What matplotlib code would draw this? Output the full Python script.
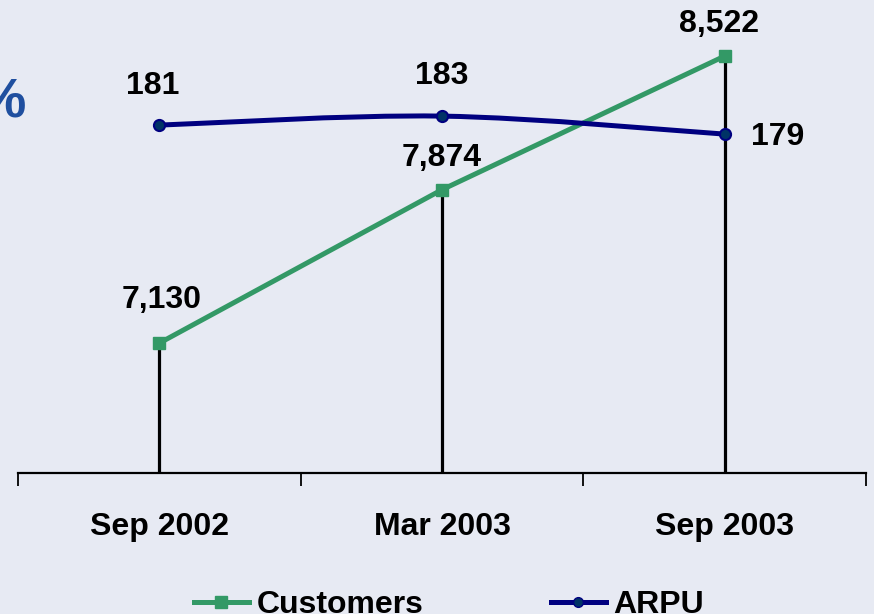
import matplotlib
matplotlib.use("Agg")
import matplotlib.pyplot as plt
from matplotlib.path import Path
from matplotlib.patches import PathPatch
from matplotlib.lines import Line2D

# data
periods = ["Sep 2002", "Mar 2003", "Sep 2003"]
customers = [7130, 7874, 8522]
arpu = [181, 183, 179]
customer_labels = ["7,130", "7,874", "8,522"]
arpu_labels = ["181", "183", "179"]

green = "#339966"
navy = "#000080"
bg = "#e7eaf3"

plt.rcParams["font.family"] = ["Liberation Sans", "DejaVu Sans"]
plt.rcParams["font.weight"] = "bold"

fig = plt.figure(figsize=(8.74, 6.14), dpi=100)
fig.patch.set_facecolor(bg)

ax = fig.add_axes([18 / 874, 1 - 473 / 614, 848 / 874, 473 / 614])
ax.set_facecolor("none")
ax2 = ax.twinx()

x = list(range(len(periods)))

# drop lines from customers points down to the axis
ax.vlines(x, 6500, customers, color="black", lw=2.3, zorder=2)
ax.plot(x, customers, color=green, lw=3.6, marker="s", ms=9, zorder=3)

# smoothed ARPU line (Catmull-Rom style bezier, like Excel's smoothed line)
verts = [(x[0], arpu[0])]
codes = [Path.MOVETO]
n = len(x)
for i in range(n - 1):
    p0 = (x[max(i - 1, 0)], arpu[max(i - 1, 0)])
    p1 = (x[i], arpu[i])
    p2 = (x[i + 1], arpu[i + 1])
    p3 = (x[min(i + 2, n - 1)], arpu[min(i + 2, n - 1)])
    c1 = (p1[0] + (p2[0] - p0[0]) / 6, p1[1] + (p2[1] - p0[1]) / 6)
    c2 = (p2[0] - (p3[0] - p1[0]) / 6, p2[1] - (p3[1] - p1[1]) / 6)
    verts += [c1, c2, p2]
    codes += [Path.CURVE4] * 3
ax2.add_patch(PathPatch(Path(verts, codes), fill=False, edgecolor=navy,
                        lw=3.6, capstyle="round", zorder=3))
ax2.plot(x, arpu, ls="none", marker="o", ms=8, mfc="#003366", mec=navy,
         mew=1.5, zorder=4)

ax.set_xlim(-0.5, 2.5)
ax.set_ylim(6500, 8794)
ax2.set_ylim(103.7, 208.8)

for a in (ax, ax2):
    for s in ("top", "right", "left"):
        a.spines[s].set_visible(False)
    a.set_yticks([])
ax2.spines["bottom"].set_visible(False)
ax.spines["bottom"].set_linewidth(1.6)

ax.set_xticks(x)
ax.set_xticklabels(periods, fontsize=23, fontweight="bold")
ax.tick_params(axis="x", which="major", length=0, pad=28)
ax.set_xticks([-0.5, 0.5, 1.5, 2.5], minor=True)
ax.tick_params(axis="x", which="minor", length=9, width=1.3, direction="out")

# data labels
cust_off = [(2, 31), (0, 23), (-4, 23)]
for xi, v, lab, off in zip(x, customers, customer_labels, cust_off):
    ax.annotate(lab, (xi, v), xytext=off, textcoords="offset points",
                ha="center", va="center", fontsize=23, fontweight="bold")
arpu_off = [(-5, 28), (0, 29), (38, -2)]
for xi, v, lab, off in zip(x, arpu, arpu_labels, arpu_off):
    ax2.annotate(lab, (xi, v), xytext=off, textcoords="offset points",
                 ha="center", va="center", fontsize=23, fontweight="bold")

# partially visible "%" at the left edge
fig.text(26 / 874, 1 - 104 / 614, "%", color="#1f4f9f", fontsize=40,
         fontweight="bold", ha="right", va="center")

handles = [
    Line2D([], [], color=green, lw=3.6, marker="s", ms=9),
    Line2D([], [], color=navy, lw=3.6, marker="o", ms=7, mfc="#003366", mec=navy),
]
fig.legend(handles, ["Customers", "ARPU"], loc="center",
           bbox_to_anchor=(0.514, 1 - 605 / 614), ncol=2, frameon=False,
           prop={"weight": "bold", "size": 23},
           handlelength=1.7, handletextpad=0.25, columnspacing=4.0)

fig.savefig("out.png", dpi=100, facecolor=bg)
